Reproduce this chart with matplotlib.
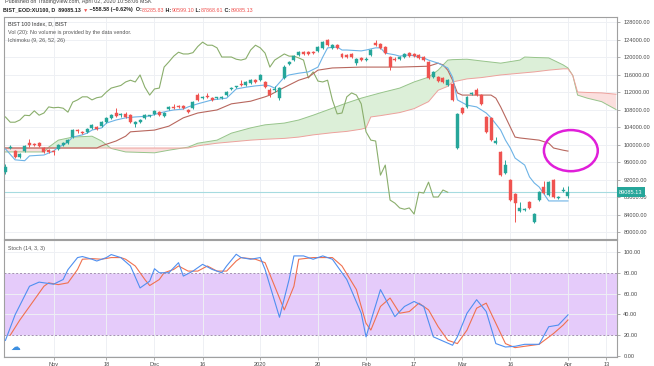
import numpy as np
import matplotlib
matplotlib.use('Agg')
import matplotlib.pyplot as plt
from matplotlib.patches import Ellipse

plt.rcParams['font.family'] = ['Liberation Sans', 'DejaVu Sans']

# ---- daily OHLC, bar 0 = mid Oct 2019 ... bar 117 = last bar (Apr 2020)
opens = [93700, 99300, 98500, 97100, 98500, 100300, 100100, 100300, 99200, 98700,
         98500, 99000, 99900, 100400, 101700, 103200, 102800, 102800, 103700, 104000,
         104200, 105100, 106100, 107200, 106700, 107000, 106700, 104700, 105100, 106000,
         106500, 107000, 107400, 106500, 108100, 108600, 108800, 108800, 107900, 108300,
         111300, 110700, 111100, 110600, 110600, 110700, 111300, 112700, 113100, 113700,
         113600, 114100, 114700, 114700, 114300, 112500, 112500, 110600, 115200, 118400,
         119300, 120500, 121100, 121100, 121100, 121400, 122000, 123900, 122000, 122700,
         120700, 120400, 120700, 118600, 119800, 119400, 120500, 123200, 123000, 122300,
         120000, 119600, 119500, 120000, 120900, 120700, 120400, 120000, 118900, 115400,
         115400, 115200, 113600, 113800, 99200, 108300, 108600, 111600, 112500, 111300,
         106300, 106100, 100300, 98300, 93500, 91900, 88700, 84800, 85000, 86900,
         82300, 87300, 90300, 88500, 91900, 87800, 89400, 88285.83]
closes = [94900, 99500, 97100, 97800, 99700, 99900, 100000, 99700, 98300, 98300,
          98200, 99900, 100300, 101000, 103300, 103000, 102600, 103500, 104400, 103500,
          105100, 106000, 106700, 106500, 106800, 106300, 105100, 105100, 105600, 106700,
          106600, 107700, 106700, 107200, 108600, 108400, 108500, 108300, 107400, 109700,
          110200, 110900, 110900, 110200, 110700, 110900, 112000, 112900, 113200, 113500,
          114300, 114700, 114300, 115900, 113100, 111300, 112700, 112900, 117700, 118900,
          120200, 121100, 120700, 120700, 121000, 122400, 123400, 122700, 122700, 122100,
          120000, 120000, 120000, 119500, 119300, 119600, 121600, 122700, 122100, 120900,
          117700, 119300, 120000, 120700, 120200, 120200, 119800, 119300, 115200, 116600,
          114500, 114300, 114700, 110200, 107000, 107200, 110900, 111800, 111300, 109300,
          102900, 101000, 100800, 93000, 95300, 87300, 86600, 85500, 85200, 85500,
          84100, 89100, 88900, 91400, 88000, 88000, 89600, 89085.13]
highs = [95500, 99800, 98800, 98000, 99900, 101200, 100400, 100600, 99500, 99000,
         98800, 100100, 100500, 101200, 103500, 103600, 103000, 103700, 104600, 104300,
         105300, 106200, 106900, 108300, 107100, 107400, 107000, 105300, 105800, 106900,
         106800, 107900, 107600, 107400, 108800, 109200, 109000, 109000, 108100, 109900,
         111700, 111100, 111800, 110800, 110900, 111100, 112200, 113100, 113400, 114700,
         114500, 114900, 114900, 116100, 114500, 112900, 113400, 113100, 118100, 119100,
         120500, 121400, 121300, 121300, 121400, 122600, 123700, 124200, 122900, 123000,
         120900, 120600, 120900, 119700, 120000, 119900, 121800, 123900, 123200, 122500,
         120300, 119900, 120200, 120900, 121100, 120900, 120600, 120200, 119100, 116800,
         115600, 115400, 114900, 114000, 107300, 108500, 111100, 112000, 113000, 111500,
         106500, 106300, 101700, 98500, 96400, 92100, 89000, 86800, 85400, 87100,
         84300, 89300, 91600, 91600, 92100, 88200, 90400, 90599.10]
lows = [93300, 99000, 96900, 96900, 98300, 99500, 99700, 99500, 98100, 98000,
        97600, 98800, 99700, 100200, 101500, 102700, 102400, 102600, 103500, 103300,
        104000, 104900, 105900, 106300, 106400, 106100, 104900, 103900, 104900, 105800,
        106200, 106800, 106500, 106300, 107900, 108200, 108300, 108100, 107200, 108100,
        109900, 110500, 110700, 110000, 110400, 110500, 111100, 112500, 112900, 113300,
        113400, 113900, 114100, 114500, 112900, 110900, 112000, 110200, 115000, 118200,
        119100, 120300, 120500, 120500, 120800, 121200, 121800, 122500, 121800, 121900,
        119800, 119800, 119800, 118200, 119100, 119100, 120300, 122500, 121900, 120700,
        117000, 119000, 119300, 119800, 120000, 120000, 119600, 119100, 115000, 115200,
        114300, 114100, 113400, 110000, 99000, 107000, 108400, 111400, 111100, 109100,
        102600, 100800, 100100, 92800, 93300, 87100, 82300, 84600, 84800, 85300,
        82100, 87100, 88700, 88300, 87800, 87600, 89200, 87868.61]

# Ichimoku (9, 26, 52, 26) lines: (bar, price)
tenkan_bar = [0, 2, 4, 5, 8, 10, 11, 12, 13, 14, 16, 17, 18, 20, 21, 23, 25, 27, 30, 32,
              34, 35, 37, 38, 40, 43, 46, 48, 50, 52, 54, 55, 56, 58, 59, 61, 63, 65, 66, 67,
              69, 70, 71, 74, 75, 77, 78, 79, 81, 82, 84, 86, 87, 88, 90, 92, 93, 94, 96, 98,
              100, 101, 103, 104, 105, 106, 108, 109, 110, 111, 113, 117]
tenkan_val = [99000, 96500, 96300, 97400, 97600, 98500, 99400, 99900, 100600, 101700,
              102200, 102600, 103300, 103800, 104900, 105600, 106100, 106300, 106500, 107200,
              107700, 107900, 108100, 108600, 109300, 110200, 110600, 112700, 113100, 113400,
              113600, 113400, 112900, 115400, 115900, 116300, 116600, 117700, 120000, 122100,
              122300, 121600, 121600, 121400, 121600, 122100, 122100, 120900, 120500, 120200,
              120500, 120000, 119800, 119300, 118600, 117500, 115400, 110200, 109000, 108600,
              107200, 106100, 103300, 101000, 99200, 96900, 95300, 92600, 91200, 90300,
              87100, 87100]
kijun_bar = [0, 19, 20, 23, 25, 26, 31, 34, 37, 40, 44, 47, 51, 54, 55, 57, 59, 61, 63, 65,
             68, 74, 82, 88, 90, 91, 92, 93, 94, 95, 101, 102, 103, 104, 105, 106, 107, 111,
             113, 114, 116, 117]
kijun_val = [99200, 99200, 99700, 100800, 101900, 102900, 103300, 104200, 106100, 107200,
             107900, 109300, 109900, 110900, 111300, 112500, 113600, 114700, 115400, 117000,
             117500, 117700, 117700, 117900, 118600, 118200, 117000, 114700, 111800, 111300,
             111300, 110600, 108600, 106300, 104000, 101700, 101500, 101000, 100300, 99200,
             98700, 98500]
cloud_bar = [0, 8, 9, 11, 14, 18, 20, 22, 25, 31, 34, 38, 40, 44, 47, 51, 54, 58, 61, 64,
             68, 71, 74, 75, 76, 78, 82, 85, 88, 90, 92, 93, 96, 99, 103, 107, 108, 110, 113,
             116, 117, 118, 119, 121, 124, 127]
span_a = [98300, 98300, 99400, 101000, 101700, 101900, 100800, 99100, 98300, 98100,
          98700, 99400, 100300, 101000, 102600, 103800, 104500, 104900, 105600, 106700,
          108300, 109500, 110600, 110900, 111200, 111800, 112900, 114300, 115400, 117000,
          119300, 119400, 119500, 119100, 118600, 119300, 120000, 119900, 119800, 118200,
          117500, 115800, 111300, 110600, 109800, 108000]
span_b = [99200, 99200, 99200, 99200, 99200, 99200, 99200, 99200, 99200, 99200,
          99200, 99200, 99700, 100300, 100600, 101000, 101200, 101400, 101700, 102200,
          102700, 103000, 103500, 103800, 106300, 106600, 107300, 108200, 109800, 112400,
          113300, 114300, 115000, 115300, 115900, 116300, 116400, 116600, 117000, 117300,
          117300, 115800, 112000, 111900, 111800, 111500]

# Stoch (14, 3, 3): (bar, value)
k_bar = [0, 2, 5, 7, 10, 12, 13, 15, 16, 18, 19, 21, 22, 24, 26, 28, 30, 31, 32, 34,
         36, 37, 39, 41, 43, 45, 46, 48, 49, 51, 53, 54, 57, 59, 60, 62, 64, 66, 68, 71,
         74, 75, 78, 81, 83, 85, 87, 89, 93, 94, 96, 98, 100, 102, 104, 106, 108, 111, 113, 115,
         117]
k_val = [15, 39.5, 67, 71, 69, 73.5, 83, 94.6, 95.6, 93, 91.3, 94.6, 97.5, 94.6, 86.5, 65.4,
         71.9, 83.9, 80, 80, 89.7, 76.8, 81.6, 88.1, 83.2, 80, 86.5, 97.8, 94.6, 93, 94.6, 83.2,
         37.2, 73.5, 96.2, 96.2, 93, 96.2, 93, 73.5, 41.1, 18.4, 63.8, 37.8, 47.6, 52.4, 47.6,
         18.4, 10.3, 18.4, 41.1, 54.1, 42.7, 11.9, 8.6, 9.3, 11.2, 11.2, 28.1, 29.7, 39.5]
d_bar = [1, 3, 6, 8, 9, 11, 13, 15, 16, 18, 20, 22, 24, 25, 27, 29, 30, 32, 33, 35,
         36, 38, 40, 42, 44, 46, 48, 49, 52, 54, 56, 58, 60, 61, 64, 66, 68, 70, 73, 75,
         76, 78, 80, 82, 84, 86, 88, 90, 92, 94, 96, 98, 100, 102, 104, 106, 108, 111, 114, 116,
         117]
d_val = [20, 34.6, 54, 67, 70.3, 68.6, 70.3, 83.2, 93, 93.6, 93, 94.6, 94.6, 93, 86.5, 73.5,
         67.7, 73.5, 80, 83.2, 86.5, 81.6, 81.6, 86.5, 81.6, 81.6, 91.3, 94.6, 93, 89.7, 67,
         44.3, 67, 93, 94.6, 94.6, 94.6, 86.5, 63.8, 31.4, 24.9, 47.6, 55.7, 41.1, 42.7, 50.8,
         44.3, 28.1, 15.1, 11.9, 24.9, 45.9, 50.8, 31.4, 11.9, 8, 9.3, 11.2, 21.6, 29.7, 34.6]

tick_bars = [10, 21, 31, 41, 53, 65, 75, 85, 95, 105, 117, 125]
tick_labels = ['Nov', '18', 'Dec', '16', '2020', '20', 'Feb', '17', 'Mar', '16', 'Apr', '13']
price_ticks = list(range(80000, 128001, 4000))
stoch_ticks = [0, 20, 40, 60, 80, 100]
last_close = closes[-1]

UP, DOWN = '#26a69a', '#ef5350'
GRID = '#eef0f4'
TXT = '#4a4a4a'
AX = '#a0a0a0'
FS = 4.1

W, H = 654, 366
fig = plt.figure(figsize=(W / 100, H / 100), dpi=100)
fig.patch.set_facecolor('white')
ax = fig.add_axes([4 / W, 1 - 239 / H, 613 / W, 222 / H])
ax2 = fig.add_axes([4 / W, 1 - 357 / H, 613 / W, 117 / H], sharex=ax)

# ---- main panel
sa, sb = np.array(span_a), np.array(span_b)
ax.fill_between(cloud_bar, sa, sb, where=sa >= sb, interpolate=True,
                color='#dcefd8', lw=0, zorder=1)
ax.fill_between(cloud_bar, sa, sb, where=sa < sb, interpolate=True,
                color='#fbdfde', lw=0, zorder=1)
ax.plot(cloud_bar, span_a, color='#97c48b', lw=0.7, zorder=2)
ax.plot(cloud_bar, span_b, color='#eda19c', lw=0.7, zorder=2)

lag = closes[25:]
ax.plot(np.arange(len(lag)), lag, color='#8aae6c', lw=0.8, zorder=3)
ax.plot(kijun_bar, kijun_val, color='#b8675e', lw=0.8, zorder=3)
ax.plot(tenkan_bar, tenkan_val, color='#6db3e6', lw=0.8, zorder=3)

idx = np.arange(len(closes))
o, c = np.array(opens), np.array(closes)
cols = np.where(c >= o, UP, DOWN)
ax.vlines(idx, lows, highs, colors=cols, lw=0.7, zorder=4)
ax.bar(idx, np.maximum(np.abs(c - o), 220), bottom=np.minimum(o, c), width=0.62,
       color=cols, edgecolor=cols, lw=0.3, zorder=5)

ax.axhline(last_close, color='#a6dbe0', lw=0.8, zorder=2)
ax.add_patch(Ellipse((117.6, 98600), 11.2, 9400, angle=0, fill=False,
                     edgecolor='#e01fd9', lw=1.8, zorder=6))

ax.set_xlim(-0.3, 127.2)
ax.set_ylim(78400, 129150)
ax.set_yticks(price_ticks)
ax.set_yticklabels(['%.2f' % v for v in price_ticks])
ax.annotate('%.2f' % last_close, xy=(1, last_close), xycoords=('axes fraction', 'data'),
            xytext=(1.5, 0), textcoords='offset points', va='center', ha='left',
            fontsize=FS, color='white', zorder=10, annotation_clip=False,
            bbox=dict(boxstyle='square,pad=0.4', fc='#26a69a', ec='none'))

ax.text(0.007, 0.968, 'BIST 100 Index, D, BIST', transform=ax.transAxes,
        fontsize=3.9, color='#333333', va='center')
ax.text(0.007, 0.932, 'Vol (20): No volume is provided by the data vendor.',
        transform=ax.transAxes, fontsize=3.9, color='#555555', va='center')
ax.text(0.007, 0.896, 'Ichimoku (9, 26, 52, 26)', transform=ax.transAxes,
        fontsize=3.9, color='#555555', va='center')

# ---- stochastic panel
ax2.axhspan(20, 80, color='#e5cbfa', lw=0, zorder=0)
ax2.axhline(80, color='#a58fb3', lw=0.7, ls=(0, (2, 2)), zorder=1)
ax2.axhline(20, color='#a58fb3', lw=0.7, ls=(0, (2, 2)), zorder=1)
ax2.plot(d_bar, d_val, color='#f0714f', lw=0.8, zorder=3)
ax2.plot(k_bar, k_val, color='#4f8ff0', lw=0.8, zorder=4)
ax2.set_ylim(-1, 111.5)
ax2.set_yticks(stoch_ticks)
ax2.set_yticklabels(['%.2f' % v for v in stoch_ticks])
ax2.text(0.007, 0.925, 'Stoch (14, 3, 3)', transform=ax2.transAxes,
         fontsize=3.9, color='#555555', va='center')
ax2.text(0.011, 0.09, '\u2601', transform=ax2.transAxes, fontsize=7,
         color='#3d8fe0', va='center', ha='left', family='DejaVu Sans')

ax2.set_xticks(tick_bars)
ax2.set_xticklabels(tick_labels)

for a in (ax, ax2):
    a.set_facecolor('none')
    a.grid(True, color=GRID, lw=0.7, zorder=0)
    a.set_axisbelow(True)
    a.yaxis.tick_right()
    a.tick_params(axis='y', labelsize=FS, labelcolor=TXT, length=2.5, width=0.6,
                  color=AX, pad=2)
    a.tick_params(axis='x', labelsize=FS, labelcolor=TXT, length=2, width=0.6,
                  color=AX, pad=1.5)
    for s in a.spines.values():
        s.set_color(AX)
        s.set_linewidth(0.8)
ax.tick_params(axis='x', labelbottom=False, length=0)

# ---- header
fig.text(0.008, 1 - 1.5 / H, 'Published on TradingView.com, April 02, 2020 10:58:06 MSK',
         fontsize=3.9, color='#444444', va='center')
r = fig.canvas.get_renderer()
x = 0.005
for s, col in [('BIST_EOD:XU100, D  89085.13 ', '#222222'), ('\u25bc', DOWN),
               (' \u2212558.58 (\u22120.62%)  O:', '#222222'), ('88285.83', DOWN),
               (' H:', '#222222'), ('90599.10', DOWN), (' L:', '#222222'),
               ('87868.61', DOWN), (' C:', '#222222'), ('89085.13', DOWN)]:
    t = fig.text(x, 1 - 10 / H, s, fontsize=3.9, color=col, va='center',
                 fontweight='bold' if col == '#222222' else 'normal')
    x += t.get_window_extent(renderer=r).width / fig.bbox.width

fig.savefig('out.png', dpi=100)
